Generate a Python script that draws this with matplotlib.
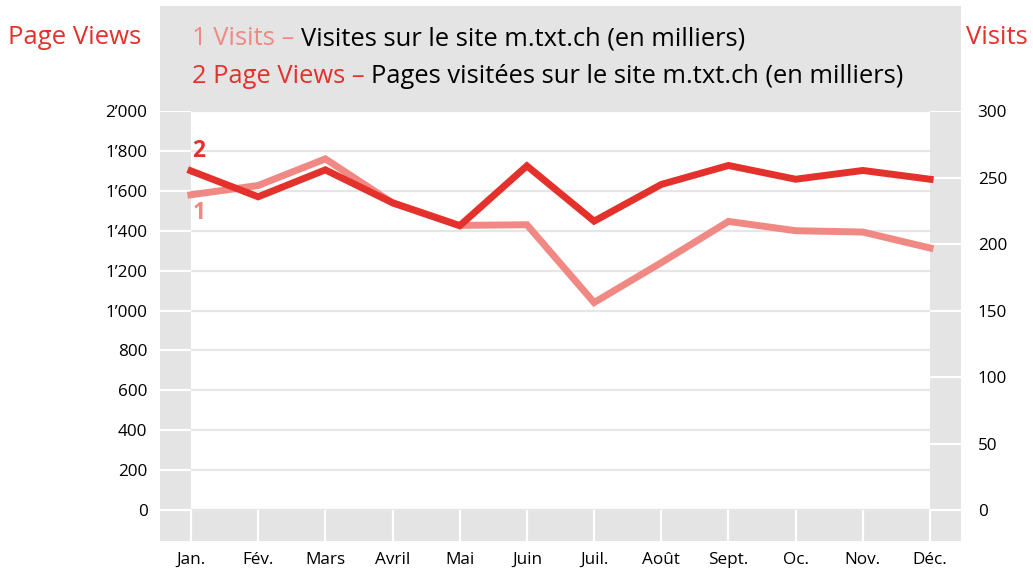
import matplotlib
matplotlib.use("Agg")
import matplotlib.pyplot as plt
from matplotlib.patches import Rectangle
from matplotlib.text import Annotation

plt.rcParams['font.family'] = ['Open Sans', 'DejaVu Sans']

# data (thousands)
months = ['Jan.', 'Fév.', 'Mars', 'Avril', 'Mai', 'Juin',
          'Juil.', 'Août', 'Sept.', 'Oc.', 'Nov.', 'Déc.']
page_views = [1700, 1570, 1705, 1540, 1425, 1725, 1448, 1632, 1727, 1658, 1702, 1658]
visits = [237, 244, 264, 231, 214, 214.5, 156, 186, 217, 210, 209, 197]

left_ticks = list(range(0, 2001, 200))
right_ticks = list(range(0, 301, 50))

dark_red = '#E4312B'
light_red = '#F08983'
grey = '#E3E4E3'
grid_grey = '#E6E6E6'

W, H = 1033, 569
fig = plt.figure(figsize=(W / 100, H / 100), dpi=100)

# header box (drawn first, behind everything)
fig.patches.append(Rectangle((160 / W, 458 / H), 801 / W, 105 / H,
                             transform=fig.transFigure, color=grey, lw=0, zorder=-5))

# axes rect in pixels: x 160-961, y 111-541 (top-down)
ax = fig.add_axes([160 / W, 28 / H, 801 / W, 430 / H])
x0, x1 = -0.46, 11.46
y0, y1 = -155, 2000
ax.set_xlim(x0, x1)
ax.set_ylim(y0, y1)
ax.set_facecolor('white')
for s in ax.spines.values():
    s.set_visible(False)

# grey frame strips
ax.axvspan(x0, 0, color=grey, lw=0, zorder=0)
ax.axvspan(11, x1, color=grey, lw=0, zorder=0)
ax.axhspan(y0, 0, color=grey, lw=0, zorder=0)

# gridlines: grey inside, white across the left strip
for v in left_ticks:
    ax.hlines(v, 0, 11, color=grid_grey, lw=1.6, zorder=1)
    ax.hlines(v, x0, 0, color='white', lw=1.6, zorder=1)
# white separators in bottom strip
ax.vlines(range(len(months)), y0, 0, color='white', lw=1.6, zorder=1)

ax.set_xticks(range(len(months)))
ax.set_xticklabels(months, fontsize=12.3)
ax.set_yticks(left_ticks)
ax.set_yticklabels([f"{v:,}".replace(',', '\u2019') for v in left_ticks], fontsize=12.3)
ax.tick_params(axis='both', length=0)
ax.tick_params(axis='y', pad=9)
ax.tick_params(axis='x', pad=8)

# right axis for visits
ax_v = ax.twinx()
ax_v.set_ylim(y0 * 0.15, 300)
ax_v.set_yticks(right_ticks)
ax_v.set_yticklabels([str(v) for v in right_ticks], fontsize=12.3)
ax_v.tick_params(axis='y', length=0, pad=12)
for s in ax_v.spines.values():
    s.set_visible(False)
ax_v.hlines(right_ticks, 11, x1, color='white', lw=1.6, zorder=1)
ax_v.plot(range(len(months)), visits, color=light_red, lw=5,
          solid_joinstyle='miter', zorder=3)

# page views on top, same scale as left axis
ax_p = ax.twinx()
ax_p.set_ylim(y0, y1)
ax_p.set_yticks([])
for s in ax_p.spines.values():
    s.set_visible(False)
ax_p.plot(range(len(months)), page_views, color=dark_red, lw=5,
          solid_joinstyle='miter', zorder=4)
ax_p.text(0.02, 1800, '2', color=dark_red, fontsize=16.5, fontweight='bold',
          ha='left', va='center')
ax_p.text(0.03, 1490, '1', color=light_red, fontsize=16.5, fontweight='bold',
          ha='left', va='center')

fig.text(8 / W, 1 - 38 / H, 'Page Views', color=dark_red, fontsize=18.5,
         ha='left', va='center')
fig.text(1028 / W, 1 - 38 / H, 'Visits', color=dark_red, fontsize=18.5,
         ha='right', va='center')

# legend lines in header: coloured lead-in followed by black description
t1 = fig.text(192 / W, 1 - 51 / H, '1 Visits \u2013 ', color=light_red,
              fontsize=18.4, ha='left', va='bottom', zorder=5)
fig.add_artist(Annotation('Visites sur le site m.txt.ch (en milliers)', xy=(1, 0),
                          xycoords=t1, color='black', fontsize=18.4,
                          ha='left', va='bottom', zorder=5))
t2 = fig.text(192 / W, 1 - 89 / H, '2 Page Views \u2013 ', color=dark_red,
              fontsize=18.4, ha='left', va='bottom', zorder=5)
fig.add_artist(Annotation('Pages visitées sur le site m.txt.ch (en milliers)', xy=(1, 0),
                          xycoords=t2, color='black', fontsize=18.4,
                          ha='left', va='bottom', zorder=5))

fig.savefig('out.png', dpi=100)
